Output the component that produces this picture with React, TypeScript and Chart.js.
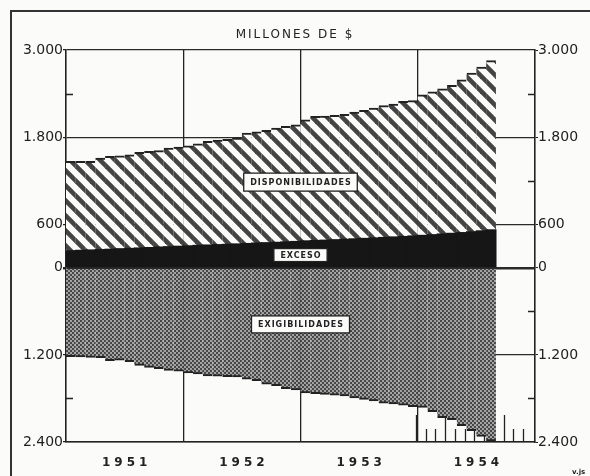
import React, { useEffect, useRef } from 'react';
import { Chart, registerables } from 'chart.js';

Chart.register(...registerables);

// ---- Data (millones de $), monthly Jan 1951 – Aug 1954 ----
const YEARS = ['1951', '1952', '1953', '1954'];
const MONTHS = ['Ene', 'Feb', 'Mar', 'Abr', 'May', 'Jun', 'Jul', 'Ago', 'Sep', 'Oct', 'Nov', 'Dic'];
const CATEGORIES = YEARS.flatMap((y) => MONTHS.map((m) => `${m} ${y}`));

// Total disponibilidades (top stepped edge)
const DISPONIBILIDADES: (number | null)[] = [
  1461, 1461, 1461, 1508, 1530, 1540, 1553, 1585, 1600, 1612, 1645, 1660,
  1677, 1705, 1737, 1755, 1765, 1783, 1852, 1870, 1890, 1920, 1945, 1966,
  2035, 2081, 2085, 2095, 2110, 2140, 2165, 2196, 2230, 2250, 2288, 2300,
  2380, 2420, 2460, 2510, 2587, 2680, 2760, 2850, null, null, null, null,
];

// Exceso (black band above zero)
const EXCESO: (number | null)[] = [
  235, 240, 245, 250, 255, 262, 266, 272, 278, 285, 290, 296,
  302, 308, 313, 318, 322, 328, 334, 340, 345, 350, 356, 362,
  370, 375, 380, 386, 392, 398, 404, 410, 417, 424, 430, 438,
  446, 455, 465, 474, 484, 496, 508, 522, null, null, null, null,
];

// Exigibilidades (drawn below zero)
const EXIGIBILIDADES: (number | null)[] = [
  -1220, -1225, -1230, -1235, -1275, -1270, -1290, -1340, -1370, -1385, -1410, -1420,
  -1445, -1460, -1485, -1490, -1495, -1500, -1530, -1550, -1600, -1620, -1660, -1680,
  -1720, -1730, -1740, -1750, -1760, -1790, -1810, -1830, -1860, -1870, -1890, -1910,
  -1920, -1980, -2060, -2090, -2170, -2240, -2320, -2380, null, null, null, null,
];

const Y_MIN = -2400;
const Y_MAX = 3000;
const Y_STEP = 600;
const MAJOR_TICKS = [3000, 1800, 600, 0, -1200, -2400];
const TITLE = 'MILLONES DE $';
const BOX_LABELS = [
  { text: 'DISPONIBILIDADES', value: 1180, h: 18 },
  { text: 'EXCESO', value: 175, h: 13 },
  { text: 'EXIGIBILIDADES', value: -780, h: 17 },
];

const INK = '#222';
const PAPER = '#fbfbfa';
const FONT = "'DejaVu Sans', sans-serif";

const fmt = (v: number) => {
  const a = Math.abs(v);
  if (a >= 1000) return `${Math.floor(a / 1000)}.${String(a % 1000).padStart(3, '0')}`;
  return String(a);
};
const isMajor = (v: number) => MAJOR_TICKS.includes(v);

function makeHatch(): CanvasPattern | string {
  const s = 15;
  const c = document.createElement('canvas');
  c.width = s;
  c.height = s;
  const g = c.getContext('2d');
  if (!g) return '#777';
  g.fillStyle = PAPER;
  g.fillRect(0, 0, s, s);
  g.strokeStyle = '#444';
  g.lineWidth = 4.6;
  g.lineCap = 'square';
  for (const o of [-s, 0, s]) {
    g.beginPath();
    g.moveTo(o - 4, -4);
    g.lineTo(o + s + 4, s + 4);
    g.stroke();
  }
  return g.createPattern(c, 'repeat') || '#777';
}

function makeDots(): CanvasPattern | string {
  const c = document.createElement('canvas');
  c.width = 4;
  c.height = 4;
  const g = c.getContext('2d');
  if (!g) return '#888';
  g.fillStyle = '#a2a2a2';
  g.fillRect(0, 0, 4, 4);
  g.fillStyle = '#474747';
  g.fillRect(0, 0, 2, 2);
  g.fillRect(2, 2, 2, 2);
  return g.createPattern(c, 'repeat') || '#888';
}

const decor = {
  id: 'decor',
  beforeDatasetsDraw(chart: any) {
    const { ctx, chartArea, scales } = chart;
    const y = scales.y;
    const x = scales.x;
    ctx.save();
    ctx.strokeStyle = INK;
    ctx.lineWidth = 1.3;
    // minor inner ticks on both sides
    for (let v = Y_MIN; v <= Y_MAX; v += Y_STEP) {
      if (isMajor(v)) continue;
      const py = Math.round(y.getPixelForValue(v)) + 0.5;
      ctx.beginPath();
      ctx.moveTo(chartArea.left, py);
      ctx.lineTo(chartArea.left + 7, py);
      ctx.moveTo(chartArea.right - 7, py);
      ctx.lineTo(chartArea.right, py);
      ctx.stroke();
    }
    // monthly ticks of the last year along the bottom
    const last = (YEARS.length - 1) * 12;
    for (let i = last; i < CATEGORIES.length; i++) {
      const px = (x.getPixelForValue(i - 1) + x.getPixelForValue(i)) / 2;
      const len = (i - last) % 3 === 0 ? 27 : 13;
      ctx.beginPath();
      ctx.moveTo(Math.round(px) - 1.5, chartArea.bottom);
      ctx.lineTo(Math.round(px) - 1.5, chartArea.bottom - len);
      ctx.stroke();
    }
    ctx.restore();
  },
  afterDraw(chart: any) {
    const { ctx, chartArea, scales } = chart;
    const x = scales.x;
    const y = scales.y;
    ctx.save();
    // outer frame
    ctx.strokeStyle = '#333';
    ctx.lineWidth = 2;
    ctx.beginPath();
    ctx.moveTo(11, chart.height);
    ctx.lineTo(11, 11);
    ctx.lineTo(chart.width, 11);
    ctx.stroke();

    // title
    ctx.fillStyle = INK;
    ctx.textAlign = 'center';
    ctx.textBaseline = 'middle';
    (ctx as any).letterSpacing = '2px';
    ctx.font = `12px ${FONT}`;
    ctx.fillText(TITLE, chart.width / 2, 35);

    // year labels
    (ctx as any).letterSpacing = '4px';
    ctx.font = `bold 12px ${FONT}`;
    YEARS.forEach((yr, k) => {
      const a = x.getPixelForValue(k * 12);
      const b = x.getPixelForValue(k * 12 + 11);
      ctx.fillText(yr, (a + b) / 2 + 2, chartArea.bottom + 21);
    });

    // boxed labels
    const cx = (x.getPixelForValue(23) + x.getPixelForValue(24)) / 2;
    (ctx as any).letterSpacing = '1px';
    ctx.font = `bold 8px ${FONT}`;
    BOX_LABELS.forEach((lb) => {
      const cy = y.getPixelForValue(lb.value);
      const w = ctx.measureText(lb.text).width + 12;
      ctx.fillStyle = PAPER;
      ctx.fillRect(cx - w / 2, cy - lb.h / 2, w, lb.h);
      ctx.strokeStyle = INK;
      ctx.lineWidth = 1.3;
      ctx.strokeRect(cx - w / 2, cy - lb.h / 2, w, lb.h);
      ctx.fillStyle = INK;
      ctx.fillText(lb.text, cx + 0.5, cy + 0.5);
    });

    // signature
    (ctx as any).letterSpacing = '0px';
    ctx.font = `bold 7px ${FONT}`;
    ctx.textAlign = 'left';
    ctx.fillText('v.js', 572, chart.height - 4);
    ctx.restore();
  },
};

export default function App() {
  const ref = useRef<HTMLCanvasElement>(null);

  useEffect(() => {
    const canvas = ref.current;
    if (!canvas) return;
    const hatch = makeHatch();
    const dots = makeDots();
    const hatchVals = DISPONIBILIDADES.map((d, i) => (d == null || EXCESO[i] == null ? null : d - (EXCESO[i] as number)));

    const yTicks = {
      stepSize: Y_STEP,
      autoSkip: false,
      padding: 0,
      color: INK,
      font: { family: FONT, size: 14 },
      callback: (v: any) => (isMajor(Number(v)) ? fmt(Number(v)) : ''),
    };

    const chart = new Chart(canvas, {
      type: 'bar',
      data: {
        labels: CATEGORIES,
        datasets: [
          {
            label: 'Exceso',
            data: EXCESO,
            backgroundColor: '#161616',
            borderWidth: 0,
            stack: 's',
          },
          {
            label: 'Disponibilidades',
            data: hatchVals,
            backgroundColor: hatch as any,
            borderColor: INK,
            borderWidth: { top: 2, right: 0, bottom: 0, left: 0 } as any,
            borderSkipped: false,
            stack: 's',
          },
          {
            label: 'Exigibilidades',
            data: EXIGIBILIDADES,
            backgroundColor: dots as any,
            borderColor: INK,
            borderWidth: { top: 0, right: 0, bottom: 2, left: 0 } as any,
            borderSkipped: false,
            stack: 's',
          },
        ],
      },
      options: {
        responsive: false,
        animation: false,
        devicePixelRatio: 1,
        layout: { padding: { top: 50, left: 0, right: 0, bottom: 0 } },
        datasets: { bar: { barPercentage: 1, categoryPercentage: 1, inflateAmount: 0.6 } } as any,
        plugins: { legend: { display: false }, tooltip: { enabled: false }, title: { display: false } },
        scales: {
          x: {
            stacked: true,
            offset: true,
            z: 1,
            grid: {
              offset: true,
              drawTicks: false,
              color: (c: any) => (c.index != null && c.index > 0 && c.index % 12 === 0 ? INK : 'transparent'),
              lineWidth: 1.3,
            },
            border: { display: true, color: INK, width: 1.6 },
            ticks: { display: false, autoSkip: false, maxRotation: 0 },
            afterFit: (s: any) => {
              s.height = 34;
            },
          },
          y: {
            stacked: true,
            position: 'left',
            min: Y_MIN,
            max: Y_MAX,
            z: 1,
            grid: {
              color: (c: any) => (c.tick && isMajor(c.tick.value) ? '#2a2a2a' : 'transparent'),
              lineWidth: (c: any) => (c.tick && c.tick.value === 0 ? 2.5 : 1.2),
              tickLength: 3,
              tickColor: (c: any) => (c.tick && isMajor(c.tick.value) ? INK : 'transparent'),
            },
            border: { display: true, color: INK, width: 1.6 },
            ticks: yTicks as any,
            afterFit: (s: any) => {
              s.width = 66;
            },
          },
          y2: {
            position: 'right',
            min: Y_MIN,
            max: Y_MAX,
            z: 1,
            grid: {
              drawOnChartArea: false,
              tickLength: 3,
              color: (c: any) => (c.tick && isMajor(c.tick.value) ? INK : 'transparent'),
              tickColor: (c: any) => (c.tick && isMajor(c.tick.value) ? INK : 'transparent'),
            },
            border: { display: true, color: INK, width: 1.6 },
            ticks: yTicks as any,
            afterFit: (s: any) => {
              s.width = 55;
            },
          },
        },
      },
      plugins: [decor],
    });
    return () => chart.destroy();
  }, []);

  return (
    <div style={{ position: 'absolute', left: 0, top: 0, width: 590, height: 476, background: PAPER }}>
      <canvas ref={ref} width={590} height={476} style={{ display: 'block' }} />
    </div>
  );
}
